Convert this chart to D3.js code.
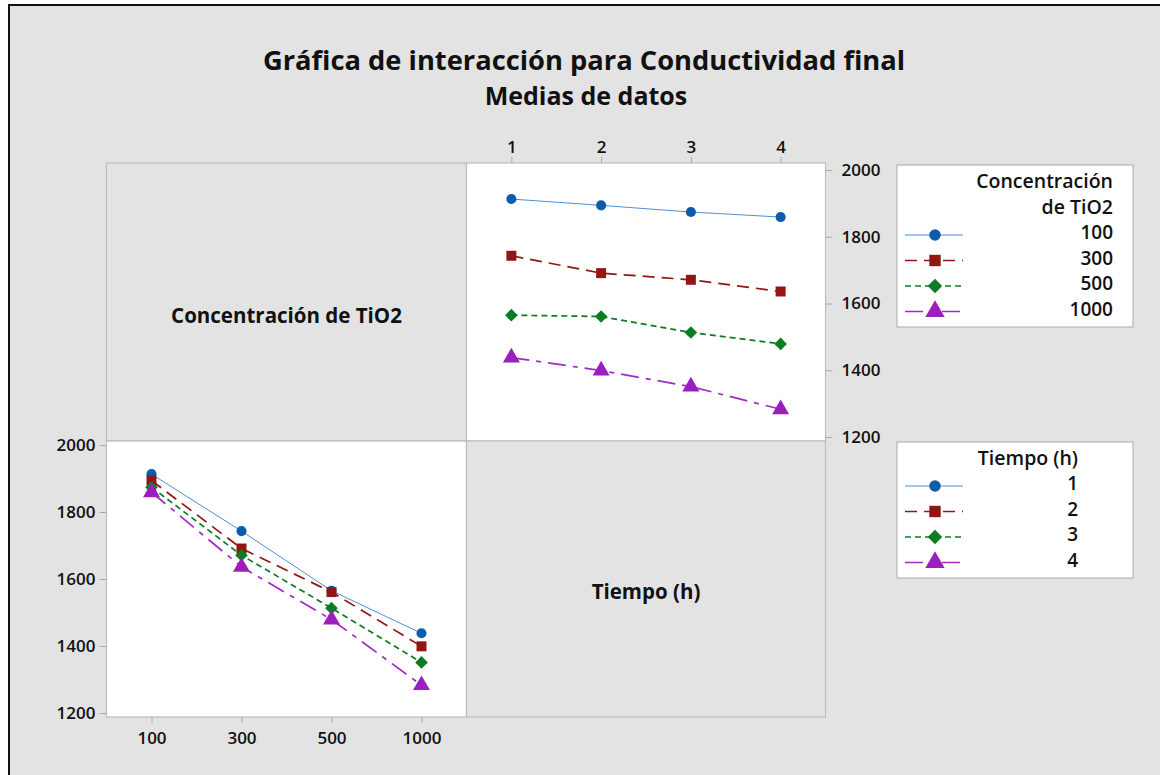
<!DOCTYPE html>
<html>
  <head>
    <meta charset="UTF-8" />
    <title>Gráfica de interacción para Conductividad final</title>
    <style>
      body,
      html {
        margin: 0;
        padding: 0;
        overflow: hidden;
        background: #fff;
      }
      text {
        font-family: "Open Sans", "Noto Sans", sans-serif;
        fill: #111;
      }
      .tick text {
        font-size: 17px;
        font-weight: 600;
      }
    </style>
  </head>
  <body>
    <svg id="chart"></svg>
    <script src="https://d3js.org/d3.v7.min.js"></script>
    <script>
      // data: means of final conductivity
      const concentraciones = ["100", "300", "500", "1000"];
      const tiempos = ["1", "2", "3", "4"];
      // rows = concentración, columns = tiempo (h)
      const medias = [
        [1913, 1894, 1874, 1859],
        [1743, 1691, 1671, 1636],
        [1565, 1561, 1513, 1479],
        [1438, 1399, 1351, 1283],
      ];
      const yTicks = [1200, 1400, 1600, 1800, 2000];

      const width = 1160;
      const height = 775;

      const colors = ["#0b5cad", "#921616", "#0a7d22", "#9b1fbf"];
      const lineColors = ["#4d8fd6", "#921616", "#0a7d22", "#a02bc8"];
      const dashes = [null, "12,7", "6,4", "18,7,5,7"];
      const widths = [1, 1.7, 1.7, 1.7];

      const svg = d3.select("#chart").attr("width", width).attr("height", height);

      // outer frame
      svg.append("rect").attr("x", 9).attr("y", 5).attr("width", 1200).attr("height", 800)
        .attr("fill", "#e3e3e3").attr("stroke", "#111").attr("stroke-width", 2);

      svg.append("text").attr("x", 584).attr("y", 70).attr("text-anchor", "middle")
        .style("font-size", "27.3px").style("font-weight", 700)
        .text("Gráfica de interacción para Conductividad final");
      svg.append("text").attr("x", 586).attr("y", 105).attr("text-anchor", "middle")
        .style("font-size", "25px").style("font-weight", 700)
        .text("Medias de datos");

      const gLeft = 106.5, gMid = 466.5, gRight = 825.5;
      const gTop = 163, gMidY = 441, gBottom = 717;

      // panels
      const panels = [
        [gLeft, gTop, gMid, gMidY, "#e3e3e3"],
        [gMid, gTop, gRight, gMidY, "#fff"],
        [gLeft, gMidY, gMid, gBottom, "#fff"],
        [gMid, gMidY, gRight, gBottom, "#e3e3e3"],
      ];
      panels.forEach(([x0, y0, x1, y1, f]) => {
        svg.append("rect").attr("x", x0).attr("y", y0).attr("width", x1 - x0).attr("height", y1 - y0)
          .attr("fill", f).attr("stroke", "#bdbdbd").attr("stroke-width", 1.2);
      });

      svg.append("text").attr("x", (gLeft + gMid) / 2).attr("y", 323).attr("text-anchor", "middle")
        .style("font-size", "20.5px").style("font-weight", 700).text("Concentración de TiO2");
      svg.append("text").attr("x", (gMid + gRight) / 2).attr("y", 599).attr("text-anchor", "middle")
        .style("font-size", "20.5px").style("font-weight", 700).text("Tiempo (h)");

      // scales
      const xTiempo = d3.scalePoint().domain(tiempos).range([gMid, gRight]).padding(0.5);
      const xConc = d3.scalePoint().domain(concentraciones).range([gLeft, gMid]).padding(0.5);
      const yUpper = d3.scaleLinear().domain([1200, 2000]).range([437, 170]);
      const yLower = d3.scaleLinear().domain([1200, 2000]).range([713, 445]);

      function styleAxis(g) {
        g.select(".domain").remove();
        g.selectAll(".tick line").attr("stroke", "#aaa");
      }

      svg.append("g").attr("transform", `translate(0,${gTop})`)
        .call(d3.axisTop(xTiempo).tickSize(6).tickPadding(4)).call(styleAxis);
      svg.append("g").attr("transform", `translate(${gRight},0)`)
        .call(d3.axisRight(yUpper).tickValues(yTicks).tickFormat(d3.format("d")).tickSize(7).tickPadding(9))
        .call(styleAxis);
      svg.append("g").attr("transform", `translate(${gLeft},0)`)
        .call(d3.axisLeft(yLower).tickValues(yTicks).tickFormat(d3.format("d")).tickSize(7).tickPadding(4))
        .call(styleAxis);
      svg.append("g").attr("transform", `translate(0,${gBottom})`)
        .call(d3.axisBottom(xConc).tickSize(6).tickPadding(9)).call(styleAxis);

      const symTypes = [d3.symbolCircle, d3.symbolSquare, d3.symbolSquare, d3.symbolTriangle];
      const symSizes = [80, 100, 80, 125];
      const rot = [0, 0, 45, 0];
      const symbolPath = (i, k) => d3.symbol().type(symTypes[i]).size(symSizes[i] * k)();

      function drawSeries(points, i) {
        svg.append("path").datum(points)
          .attr("d", d3.line().x((d) => d[0]).y((d) => d[1]))
          .attr("fill", "none").attr("stroke", lineColors[i])
          .attr("stroke-width", widths[i]).attr("stroke-dasharray", dashes[i]);
      }
      function drawMarkers(points, i) {
        svg.selectAll(null).data(points).enter().append("path")
          .attr("d", symbolPath(i, 1))
          .attr("transform", (d) => `translate(${d[0]},${d[1]}) rotate(${rot[i]})`)
          .attr("fill", colors[i]);
      }

      // upper right: x = tiempo, series = concentración
      medias.forEach((row, i) => {
        const pts = row.map((v, j) => [xTiempo(tiempos[j]), yUpper(v)]);
        drawSeries(pts, i);
      });
      medias.forEach((row, i) => {
        const pts = row.map((v, j) => [xTiempo(tiempos[j]), yUpper(v)]);
        drawMarkers(pts, i);
      });

      // lower left: x = concentración, series = tiempo
      tiempos.forEach((t, j) => {
        const pts = medias.map((row, i) => [xConc(concentraciones[i]), yLower(row[j])]);
        drawSeries(pts, j);
      });
      tiempos.forEach((t, j) => {
        const pts = medias.map((row, i) => [xConc(concentraciones[i]), yLower(row[j])]);
        drawMarkers(pts, j);
      });

      // legends
      function legend(y0, h, titles, labels, textX, rowY) {
        const g = svg.append("g");
        g.append("rect").attr("x", 897).attr("y", y0).attr("width", 236).attr("height", h)
          .attr("fill", "#fff").attr("stroke", "#aaa").attr("stroke-width", 1);
        titles.forEach((t, k) => {
          g.append("text").attr("x", textX).attr("y", y0 + 23 + k * 26).attr("text-anchor", "end")
            .style("font-size", "19.5px").style("font-weight", 600).text(t);
        });
        labels.forEach((l, i) => {
          const y = rowY + i * 25.5;
          g.append("line").attr("x1", 905).attr("x2", 963).attr("y1", y).attr("y2", y)
            .attr("stroke", lineColors[i]).attr("stroke-width", widths[i])
            .attr("stroke-dasharray", dashes[i]);
          g.append("path").attr("d", symbolPath(i, 1.3))
            .attr("transform", `translate(935,${y}) rotate(${rot[i]})`).attr("fill", colors[i]);
          g.append("text").attr("x", textX).attr("y", y + 4).attr("text-anchor", "end")
            .style("font-size", "19px").style("font-weight", 600).text(l);
        });
      }
      legend(165, 162, ["Concentración", "de TiO2"], concentraciones, 1113, 235);
      legend(442, 136, ["Tiempo (h)"], tiempos, 1078, 486);
    </script>
  </body>
</html>
